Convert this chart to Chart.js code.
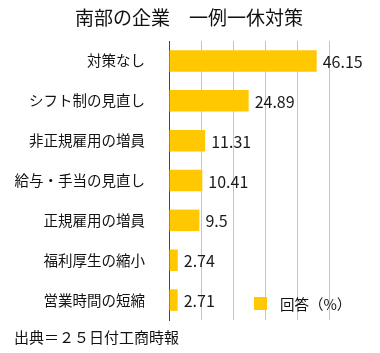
<!DOCTYPE html>
<html lang="ja">
<head>
    <meta charset="UTF-8">
    <title>南部の企業　一例一休対策</title>
    <script src="https://cdn.jsdelivr.net/npm/chart.js@4.4.0/dist/chart.umd.min.js"></script>
    <style>
        html, body { margin: 0; padding: 0; background: #fff; }
        #wrap { width: 380px; height: 353px; }
    </style>
</head>
<body>
<div id="wrap"><canvas id="myChart" width="380" height="353"></canvas></div>

<script type="text/javascript">
    // data
    var titleText = "南部の企業　一例一休対策";
    var sourceText = "出典＝２５日付工商時報";
    var seriesLabel = "回答（%）";
    var categories = ["対策なし", "シフト制の見直し", "非正規雇用の増員", "給与・手当の見直し", "正規雇用の増員", "福利厚生の縮小", "営業時間の短縮"];
    var values = [46.15, 24.89, 11.31, 10.41, 9.5, 2.74, 2.71];
    var valueLabels = ["46.15", "24.89", "11.31", "10.41", "9.5", "2.74", "2.71"];

    var FONT = "'Noto Sans CJK JP', 'Noto Sans', sans-serif";
    var BAR = "#FFC800";

    // title, source line, legend and value labels
    var extras = {
        id: "extras",
        afterDatasetsDraw: function (chart) {
            var ctx = chart.ctx;
            var meta = chart.getDatasetMeta(0);
            ctx.save();
            ctx.fillStyle = "#1a1a1a";
            ctx.font = "16px " + FONT;
            ctx.textAlign = "left";
            ctx.textBaseline = "middle";
            meta.data.forEach(function (bar, i) {
                ctx.fillText(valueLabels[i], bar.x + 6, bar.y + 1);
            });
            ctx.restore();
        },
        afterDraw: function (chart) {
            var ctx = chart.ctx;
            var area = chart.chartArea;
            ctx.save();
            ctx.fillStyle = "#111";
            ctx.textBaseline = "middle";

            ctx.font = "19px " + FONT;
            ctx.textAlign = "center";
            ctx.fillText(titleText, 189, 18);

            ctx.font = "15px " + FONT;
            ctx.textAlign = "left";
            ctx.fillText(sourceText, 14, 337);

            // legend inside the plot, bottom right
            var lx = area.left + 85, ly = area.bottom - 23;
            ctx.fillStyle = BAR;
            ctx.fillRect(lx, ly, 13, 13);
            ctx.fillStyle = "#111";
            ctx.font = "14.5px " + FONT;
            ctx.fillText(seriesLabel, lx + 26, ly + 7);
            ctx.restore();
        }
    };

    var ctx1 = document.getElementById("myChart");
    new Chart(ctx1, {
        "type": "bar",
        "data": {
            "labels": categories,
            "datasets": [{
                "label": seriesLabel,
                "data": values,
                "backgroundColor": BAR,
                "borderWidth": 0,
                "barPercentage": 0.54,
                "categoryPercentage": 1.0
            }]
        },
        "options": {
            "indexAxis": "y",
            "responsive": false,
            "animation": false,
            "layout": {"padding": {"top": 41, "right": 51, "bottom": 33, "left": 0}},
            "plugins": {
                "legend": {"display": false},
                "title": {"display": false},
                "tooltip": {"enabled": false}
            },
            "scales": {
                "x": {
                    "min": 0,
                    "max": 50,
                    "ticks": {"display": false, "stepSize": 10},
                    "grid": {"color": "#c4c4c4", "drawTicks": false, "lineWidth": 1},
                    "border": {"display": false},
                    "afterFit": function (scale) { scale.height = 0; }
                },
                "y": {
                    "ticks": {
                        "color": "#111",
                        "padding": 24,
                        "font": {"family": FONT, "size": 14.5}
                    },
                    "grid": {"display": false, "drawTicks": false},
                    "border": {"display": true, "color": "#444", "width": 1},
                    "afterFit": function (scale) { scale.width = 169; }
                }
            }
        },
        "plugins": [extras]
    });
</script>
</body>
</html>
